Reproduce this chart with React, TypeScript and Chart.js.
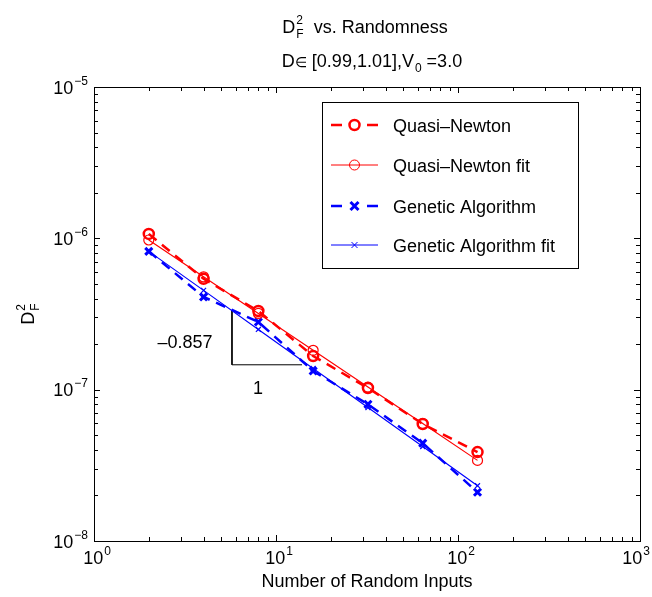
import React, { useEffect, useRef } from 'react';
import { Chart, registerables } from 'chart.js';

Chart.register(...registerables);

// ---- data ----
const inputCounts = [2, 4, 8, 16, 32, 64, 128];
const quasiNewton = [1.07e-6, 5.4e-7, 3.31e-7, 1.67e-7, 1.025e-7, 5.93e-8, 3.87e-8];
const quasiNewtonFit = [9.75e-7, 5.57e-7, 3.19e-7, 1.82e-7, 1.04e-7, 5.97e-8, 3.41e-8];
const geneticAlgorithm = [8.2e-7, 4.1e-7, 2.8e-7, 1.33e-7, 8.0e-8, 4.43e-8, 2.1e-8];
const geneticAlgorithmFit = [8.2e-7, 4.53e-7, 2.5e-7, 1.38e-7, 7.62e-8, 4.21e-8, 2.32e-8];
const slopeTriangleX = [5.73, 5.73, 13.9];
const slopeTriangleY = [3.36e-7, 1.46e-7, 1.46e-7];
const slopeText = '–0.857';
const runText = '1';
const xTickExponents = [0, 1, 2, 3];
const yTickExponents = [-8, -7, -6, -5];
const legendLabels = ['Quasi–Newton', 'Quasi–Newton fit', 'Genetic Algorithm', 'Genetic Algorithm fit'];
const xAxisTitle = 'Number of Random Inputs';

const FONT = '"Liberation Sans", Arial, Helvetica, sans-serif';
const BIG = 18;
const SMALL = 12;
const RED = '#ff0000';
const BLUE = '#0000ff';

type Seg = { t?: string; sup?: string; sub?: string; size?: number };

function segWidth(ctx: CanvasRenderingContext2D, s: Seg) {
  if (s.t !== undefined) {
    ctx.font = `${s.size || BIG}px ${FONT}`;
    return ctx.measureText(s.t).width;
  }
  ctx.font = `${SMALL}px ${FONT}`;
  const a = s.sup ? ctx.measureText(s.sup).width : 0;
  const b = s.sub ? ctx.measureText(s.sub).width : 0;
  return Math.max(a, b) + 1;
}

function richWidth(ctx: CanvasRenderingContext2D, segs: Seg[]) {
  return segs.reduce((acc, s) => acc + segWidth(ctx, s), 0);
}

function drawRich(ctx: CanvasRenderingContext2D, segs: Seg[], x: number, y: number, align: 'left' | 'center' | 'right') {
  const total = richWidth(ctx, segs);
  let cx = align === 'left' ? x : align === 'center' ? x - total / 2 : x - total;
  ctx.textAlign = 'left';
  ctx.textBaseline = 'alphabetic';
  ctx.fillStyle = '#000';
  for (const s of segs) {
    const w = segWidth(ctx, s);
    if (s.t !== undefined) {
      ctx.font = `${s.size || BIG}px ${FONT}`;
      ctx.fillText(s.t, cx, y);
    } else {
      ctx.font = `${SMALL}px ${FONT}`;
      if (s.sup) ctx.fillText(s.sup, cx + 1, y - 9);
      if (s.sub) ctx.fillText(s.sub, cx + 1, y + 5);
    }
    cx += w;
  }
}

function drawMarker(ctx: CanvasRenderingContext2D, kind: string, x: number, y: number, r: number, lw: number, color: string) {
  ctx.save();
  ctx.strokeStyle = color;
  ctx.lineWidth = lw;
  ctx.setLineDash([]);
  ctx.beginPath();
  if (kind === 'circle') {
    ctx.arc(x, y, r, 0, Math.PI * 2);
  } else {
    ctx.moveTo(x - r, y - r);
    ctx.lineTo(x + r, y + r);
    ctx.moveTo(x - r, y + r);
    ctx.lineTo(x + r, y - r);
  }
  ctx.stroke();
  ctx.restore();
}

const decorPlugin = {
  id: 'matlabDecor',
  afterDraw(chart: any) {
    const ctx: CanvasRenderingContext2D = chart.ctx;
    const { left, right, top, bottom } = chart.chartArea;
    const xs = chart.scales.x;
    const ys = chart.scales.y;
    ctx.save();

    // axes box
    ctx.strokeStyle = '#000';
    ctx.lineWidth = 1;
    ctx.setLineDash([]);
    ctx.strokeRect(left + 0.5, top + 0.5, right - left, bottom - top);

    // ticks (inward, all four sides)
    const majorLen = 6;
    const minorLen = 4;
    ctx.beginPath();
    const xMaxV = Math.pow(10, xTickExponents[xTickExponents.length - 1]);
    for (let e = xTickExponents[0]; e <= xTickExponents[xTickExponents.length - 1]; e++) {
      for (let k = 1; k <= 9; k++) {
        const v = k * Math.pow(10, e);
        if (v > xMaxV * 1.0001) break;
        const px = Math.round(xs.getPixelForValue(v)) + 0.5;
        const len = k === 1 ? majorLen : minorLen;
        ctx.moveTo(px, bottom);
        ctx.lineTo(px, bottom - len);
        ctx.moveTo(px, top);
        ctx.lineTo(px, top + len);
      }
    }
    const yMaxV = Math.pow(10, yTickExponents[yTickExponents.length - 1]);
    for (let e = yTickExponents[0]; e <= yTickExponents[yTickExponents.length - 1]; e++) {
      for (let k = 1; k <= 9; k++) {
        const v = k * Math.pow(10, e);
        if (v > yMaxV * 1.0001) break;
        const py = Math.round(ys.getPixelForValue(v)) + 0.5;
        const len = k === 1 ? majorLen : minorLen;
        ctx.moveTo(left, py);
        ctx.lineTo(left + len, py);
        ctx.moveTo(right, py);
        ctx.lineTo(right - len, py);
      }
    }
    ctx.stroke();

    // tick labels
    const W = chart.width;
    for (const e of xTickExponents) {
      const px = xs.getPixelForValue(Math.pow(10, e));
      const segs: Seg[] = [{ t: '10' }, { sup: String(e) }];
      const w = richWidth(ctx, segs);
      let c = px + 3;
      if (c + w / 2 > W - 2) c = W - 2 - w / 2;
      drawRich(ctx, segs, c, bottom + 23, 'center');
    }
    for (const e of yTickExponents) {
      const py = ys.getPixelForValue(Math.pow(10, e));
      drawRich(ctx, [{ t: '10' }, { sup: '−' + String(-e) }], left - 6, py + 6.5, 'right');
    }

    // titles
    const cx = (left + right) / 2;
    drawRich(ctx, [{ t: 'D' }, { sub: 'F', sup: '2' }, { t: '  vs. Randomness' }], cx - 2, 33, 'center');
    drawRich(ctx, [{ t: 'D' }, { t: '∈', size: 14 }, { t: ' [0.99,1.01],V' }, { sub: '0' }, { t: ' =3.0' }], cx + 5, 67, 'center');
    drawRich(ctx, [{ t: xAxisTitle }], cx, 587, 'center');
    ctx.save();
    ctx.translate(34, (top + bottom) / 2);
    ctx.rotate(-Math.PI / 2);
    drawRich(ctx, [{ t: 'D' }, { sub: 'F', sup: '2' }], 0, 0, 'center');
    ctx.restore();

    // slope annotation labels
    drawRich(ctx, [{ t: slopeText }], xs.getPixelForValue(3.16), ys.getPixelForValue(2.09e-7) + 6.5, 'center');
    drawRich(ctx, [{ t: runText }], xs.getPixelForValue(7.96), ys.getPixelForValue(1.04e-7) + 6.5, 'center');

    // legend
    const lx0 = 322, ly0 = 102, lx1 = 578, ly1 = 268;
    ctx.fillStyle = '#fff';
    ctx.fillRect(lx0, ly0, lx1 - lx0, ly1 - ly0);
    ctx.strokeStyle = '#000';
    ctx.lineWidth = 1;
    ctx.strokeRect(lx0 + 0.5, ly0 + 0.5, lx1 - lx0, ly1 - ly0);
    const rowsY = [125, 165, 206, 245];
    const styles = [
      { color: RED, dashed: true, lw: 2.5, marker: 'circle', r: 5, mlw: 2.5 },
      { color: RED, dashed: false, lw: 1, marker: 'circle', r: 5, mlw: 1 },
      { color: BLUE, dashed: true, lw: 2.5, marker: 'cross', r: 4, mlw: 3 },
      { color: BLUE, dashed: false, lw: 1, marker: 'cross', r: 3, mlw: 1 },
    ];
    legendLabels.forEach((label, i) => {
      const y = rowsY[i];
      const st = styles[i];
      ctx.strokeStyle = st.color;
      ctx.lineWidth = st.lw;
      ctx.setLineDash([]);
      ctx.beginPath();
      if (st.dashed) {
        ctx.moveTo(331, y); ctx.lineTo(342, y);
        ctx.moveTo(367, y); ctx.lineTo(378, y);
      } else {
        ctx.moveTo(331, y); ctx.lineTo(378, y);
      }
      ctx.stroke();
      drawMarker(ctx, st.marker, 354.5, y, st.r, st.mlw, st.color);
      drawRich(ctx, [{ t: label }], 393, y + 6.5, 'left');
    });

    ctx.restore();
  },
};

function pts(xv: number[], yv: number[]) {
  return xv.map((x, i) => ({ x, y: yv[i] }));
}

export default function App() {
  const ref = useRef<HTMLCanvasElement | null>(null);
  useEffect(() => {
    document.body.style.margin = '0';
    const canvas = ref.current;
    if (!canvas) return;
    const chart = new Chart(canvas, {
      type: 'scatter',
      data: {
        datasets: [
          {
            label: legendLabels[0],
            data: pts(inputCounts, quasiNewton),
            showLine: true,
            borderColor: RED,
            backgroundColor: 'rgba(0,0,0,0)',
            borderWidth: 2.5,
            borderDash: [10, 7],
            pointStyle: 'circle',
            pointRadius: 5,
            pointBorderWidth: 2.5,
            pointBorderColor: RED,
            pointBackgroundColor: 'rgba(0,0,0,0)',
          },
          {
            label: legendLabels[1],
            data: pts(inputCounts, quasiNewtonFit),
            showLine: true,
            borderColor: RED,
            backgroundColor: 'rgba(0,0,0,0)',
            borderWidth: 1.2,
            pointStyle: 'circle',
            pointRadius: 5,
            pointBorderWidth: 1.2,
            pointBorderColor: RED,
            pointBackgroundColor: 'rgba(0,0,0,0)',
          },
          {
            label: legendLabels[2],
            data: pts(inputCounts, geneticAlgorithm),
            showLine: true,
            borderColor: BLUE,
            backgroundColor: 'rgba(0,0,0,0)',
            borderWidth: 2.5,
            borderDash: [10, 7],
            pointStyle: 'crossRot',
            pointRadius: 5,
            pointBorderWidth: 3,
            pointBorderColor: BLUE,
          },
          {
            label: legendLabels[3],
            data: pts(inputCounts, geneticAlgorithmFit),
            showLine: true,
            borderColor: BLUE,
            backgroundColor: 'rgba(0,0,0,0)',
            borderWidth: 1.2,
            pointStyle: 'crossRot',
            pointRadius: 3.5,
            pointBorderWidth: 1.2,
            pointBorderColor: BLUE,
          },
          {
            label: 'slope',
            data: pts(slopeTriangleX, slopeTriangleY),
            showLine: true,
            borderColor: '#000',
            borderWidth: 1,
            pointRadius: 0,
          },
        ],
      },
      options: {
        responsive: false,
        animation: false,
        devicePixelRatio: 1,
        layout: { padding: { left: 94, right: 12, top: 87, bottom: 56 } },
        plugins: { legend: { display: false }, tooltip: { enabled: false }, title: { display: false } },
        scales: {
          x: { type: 'logarithmic', min: 1, max: 1000, display: false },
          y: { type: 'logarithmic', min: 1e-8, max: 1e-5, display: false },
        },
        elements: { line: { tension: 0 } },
      },
      plugins: [decorPlugin],
    } as any);
    return () => chart.destroy();
  }, []);
  return <canvas ref={ref} width={652} height={597} style={{ display: 'block' }} />;
}
